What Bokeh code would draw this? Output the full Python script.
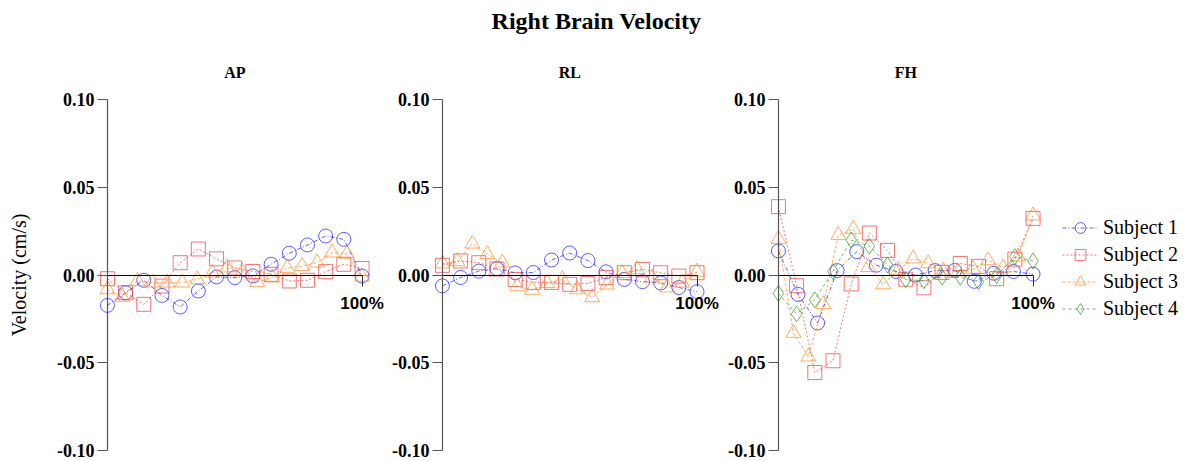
import numpy as np
from bokeh.plotting import figure
from bokeh.layouts import row, column
from bokeh.models import (ColumnDataSource, Range1d, LinearAxis, FixedTicker,
                          PrintfTickFormatter, Title, Legend, LegendItem)
from bokeh.embed import file_html
from bokeh.resources import INLINE

# ---- data -------------------------------------------------------------
panels = ["AP", "RL", "FH"]
subjects = ["Subject 1", "Subject 2", "Subject 3", "Subject 4"]
y_ticks = [-0.10, -0.05, 0.00, 0.05, 0.10]
end_tick = [100]
end_tick_label = "100%"

ap_s1 = [-0.0173, -0.0101, -0.0030, -0.0116, -0.0182, -0.0091, -0.0011, -0.0015,
         -0.0005, 0.0061, 0.0124, 0.0171, 0.0222, 0.0203, -0.0006]
ap_s2 = [-0.0021, -0.0101, -0.0167, -0.0063, 0.0070, 0.0148, 0.0092, 0.0040,
         0.0020, 0.0004, -0.0034, -0.0030, 0.0019, 0.0061, 0.0037]
ap_s3 = [-0.0082, -0.0125, -0.0034, -0.0044, -0.0044, -0.0044, -0.0025, 0.0013,
         0.0042, 0.0020, -0.0040, -0.0015, 0.0040, 0.0051, 0.0070, 0.0127,
         0.0120, -0.0010]

rl_s1 = [-0.0062, -0.0014, 0.0022, 0.0036, 0.0012, 0.0014, 0.0085, 0.0125,
         0.0082, 0.0018, -0.0025, -0.0038, -0.0045, -0.0071, -0.0095]
rl_s2 = [0.0055, 0.0080, 0.0070, 0.0034, -0.0025, -0.0042, -0.0042, -0.0053,
         -0.0048, -0.0015, 0.0013, 0.0032, 0.0013, -0.0006, 0.0013]
rl_s3 = [0.0065, 0.0078, 0.0178, 0.0118, 0.0070, -0.0065, -0.0085, -0.0047,
         -0.0025, -0.0082, -0.0128, -0.0055, 0.0010, 0.0032, -0.0015, -0.0072,
         -0.0044, 0.0018]

fh_s1 = [0.0137, -0.0110, -0.0273, 0.0025, 0.0133, 0.0056, 0.0020, 0.0000,
         0.0025, 0.0026, -0.0036, 0.0010, 0.0020, 0.0005]
fh_s2 = [0.0389, -0.0061, -0.0555, -0.0488, -0.0051, 0.0239, 0.0140, -0.0024,
         -0.0073, 0.0015, 0.0065, 0.0049, -0.0021, 0.0090, 0.0322]
fh_s3 = [0.0205, -0.0330, -0.0465, -0.0167, 0.0227, 0.0262, 0.0044, -0.0054,
         0.0028, 0.0093, 0.0066, 0.0024, 0.0019, 0.0034, 0.0083, 0.0041,
         0.0105, 0.0338]
fh_s4 = [-0.0105, -0.0222, -0.0141, 0.0020, 0.0199, 0.0164, 0.0057, -0.0027,
         -0.0032, -0.0012, -0.0012, -0.0038, -0.0003, 0.0104, 0.0080]

panel_data = {
    "AP": [ap_s1, ap_s2, ap_s3, None],
    "RL": [rl_s1, rl_s2, rl_s3, None],
    "FH": [fh_s1, fh_s2, fh_s3, fh_s4],
}

# ---- styling ----------------------------------------------------------
SERIF = "Liberation Serif"
SANS = "Liberation Sans"
styles = [
    dict(marker="circle", color="#1a1aff", dash="4 2 1 2", size=14),
    dict(marker="square", color="#f03a3a", dash="2 2", size=14),
    dict(marker="triangle", color="#ff8a1a", dash="3 2", size=15),
    dict(marker="diamond", color="#2e962e", dash="3 3", size=16),
]
ALPHA = 0.7

X_LO, X_HI = -20, 110          # room for tick labels inside each frame
Y_LO, Y_HI = -0.105, 0.105
FRAME_W, FRAME_H = 331, 369
PX_PER_X = FRAME_W / (X_HI - X_LO)
TOP, ROW_H = 45, 416

borders = {"AP": (56, 0), "RL": (4, 0), "FH": (5, 134)}
title_widths = {"AP": 21, "RL": 22, "FH": 22}
legend_renderers = {}


def make_panel(name):
    left, right = borders[name]
    p = figure(frame_width=FRAME_W, frame_height=FRAME_H,
               x_range=Range1d(X_LO, X_HI), y_range=Range1d(Y_LO, Y_HI),
               x_axis_type=None, y_axis_type=None,
               output_backend="svg", toolbar_location=None,
               min_border_left=left, min_border_right=right,
               min_border_top=TOP, min_border_bottom=ROW_H - TOP - FRAME_H,
               outline_line_color=None, background_fill_color="white",
               border_fill_color="white")

    # vertical axis through x = 0
    yax = LinearAxis(fixed_location=0, bounds=(-0.1, 0.1),
                     ticker=FixedTicker(ticks=y_ticks),
                     formatter=PrintfTickFormatter(format="%.2f"),
                     axis_line_color="#555555", axis_line_width=1.2,
                     major_tick_line_color="#555555", major_tick_out=10,
                     major_tick_in=0, minor_tick_line_color=None,
                     major_label_standoff=3,
                     major_label_text_font=SERIF,
                     major_label_text_font_style="bold",
                     major_label_text_font_size="18px",
                     major_label_text_color="black")
    p.add_layout(yax, "left")

    # horizontal axis along y = 0, marking the end of the cycle
    xax = LinearAxis(fixed_location=0, bounds=(0, 100),
                     ticker=FixedTicker(ticks=end_tick),
                     major_label_overrides={end_tick[0]: end_tick_label},
                     axis_line_color="black", axis_line_width=1,
                     major_tick_line_color="#333333", major_tick_out=11,
                     major_tick_in=0, minor_tick_line_color=None,
                     major_label_standoff=8,
                     major_label_text_font=SANS,
                     major_label_text_font_style="bold",
                     major_label_text_font_size="17px",
                     major_label_text_color="black")
    p.add_layout(xax, "below")

    for vals, st, subj in zip(panel_data[name], styles, subjects):
        if vals is None:
            continue
        src = ColumnDataSource(dict(x=np.linspace(0, 100, len(vals)), y=vals))
        ln = p.line("x", "y", source=src, line_color=st["color"],
                    line_dash=st["dash"], line_width=1, line_alpha=ALPHA)
        mk = p.scatter("x", "y", source=src, marker=st["marker"], size=st["size"],
                       line_color=st["color"], fill_color=None,
                       line_alpha=ALPHA, line_width=1)
        legend_renderers[subj] = [ln, mk]

    # panel heading centred over the 0-100% span
    off = (50 - X_LO) * PX_PER_X - title_widths[name] / 2
    p.add_layout(Title(text=name, align="left", offset=off, text_font=SERIF,
                       text_font_style="bold", text_font_size="16px",
                       text_color="black", standoff=20), "above")
    return p


p1 = make_panel("AP")
p2 = make_panel("RL")
p3 = make_panel("FH")

# y-axis caption on the first panel
cap = LinearAxis(axis_label="Velocity (cm/s)", ticker=FixedTicker(ticks=[]),
                 axis_line_color=None, major_tick_line_color=None,
                 minor_tick_line_color=None, major_tick_out=0, major_tick_in=0,
                 major_label_standoff=0, major_label_text_font_size="0px",
                 axis_label_standoff=27, axis_label_text_font=SERIF,
                 axis_label_text_font_style="normal",
                 axis_label_text_font_size="20px",
                 axis_label_text_color="black")
p1.add_layout(cap, "left")

legend = Legend(items=[LegendItem(label=s, renderers=legend_renderers[s])
                       for s in subjects],
                location=(4, 137), orientation="vertical",
                border_line_color=None, background_fill_alpha=0,
                label_text_font=SERIF, label_text_font_size="20px",
                label_text_color="black",
                glyph_width=36, glyph_height=27, label_height=27,
                spacing=0, padding=4, margin=0, label_standoff=5)
p3.add_layout(legend, "right")

# overall heading strip
header = figure(width=1192, height=TOP, x_axis_type=None, y_axis_type=None,
                output_backend="svg", toolbar_location=None,
                outline_line_color=None, min_border=0,
                background_fill_color="white", border_fill_color="white")
header.add_layout(Title(text="Right Brain Velocity", align="center",
                        text_font=SERIF, text_font_style="bold",
                        text_font_size="24px", text_color="black",
                        standoff=10), "above")

layout = column(header, row(p1, p2, p3, spacing=0), spacing=0)

open("out.html", "w").write(file_html(layout, INLINE))
